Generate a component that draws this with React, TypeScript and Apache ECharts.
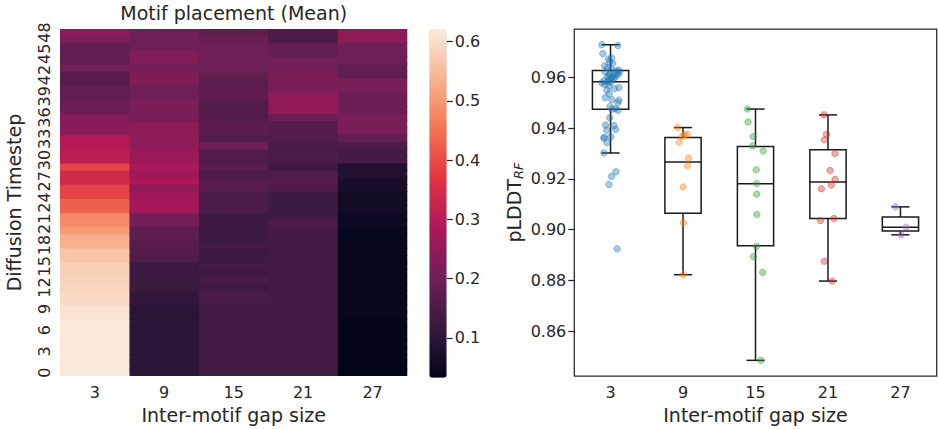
import React, { useEffect, useRef } from "react";
import * as echarts from "echarts";

// ---------- data ----------
const gapSizes = ["3", "9", "15", "21", "27"];
const timesteps = [
  "0", "1", "2", "3", "4", "5", "6", "7", "8", "9", "10", "11", "12", "13", "14", "15", "16",
  "17", "18", "19", "20", "21", "22", "23", "24", "25", "26", "27", "28", "29", "30", "31", "32",
  "33", "34", "35", "36", "37", "38", "39", "40", "41", "42", "43", "44", "45", "46", "47", "48",
];

// mean motif placement per timestep (row 0 .. row 48), one array per gap size
const heatGap3 = [
  0.62, 0.62, 0.62, 0.62, 0.62, 0.62, 0.62, 0.62, 0.608, 0.608, 0.595, 0.595, 0.588, 0.585, 0.58, 0.58,
  0.565, 0.565, 0.535, 0.53, 0.505, 0.485, 0.48, 0.425, 0.425, 0.39, 0.39, 0.345, 0.345, 0.39, 0.31,
  0.305, 0.295, 0.295, 0.235, 0.235, 0.235, 0.195, 0.195, 0.185, 0.18, 0.165, 0.165, 0.205, 0.18, 0.18,
  0.18, 0.215, 0.245,
];
const heatGap9 = [
  0.1, 0.1, 0.1, 0.1, 0.1, 0.1, 0.1, 0.1, 0.1, 0.1, 0.11, 0.11, 0.125, 0.125, 0.13, 0.13, 0.155, 0.16,
  0.165, 0.175, 0.175, 0.205, 0.205, 0.27, 0.27, 0.265, 0.245, 0.285, 0.265, 0.285, 0.26, 0.26, 0.245,
  0.24, 0.24, 0.24, 0.205, 0.215, 0.215, 0.2, 0.2, 0.22, 0.22, 0.2, 0.225, 0.225, 0.2, 0.2, 0.2,
];
const heatGap15 = [
  0.137, 0.137, 0.137, 0.137, 0.137, 0.137, 0.137, 0.137, 0.137, 0.137, 0.14, 0.145, 0.13, 0.145, 0.13,
  0.14, 0.128, 0.124, 0.135, 0.124, 0.128, 0.13, 0.125, 0.145, 0.15, 0.15, 0.165, 0.165, 0.15, 0.17,
  0.155, 0.155, 0.195, 0.158, 0.172, 0.172, 0.16, 0.16, 0.155, 0.178, 0.178, 0.17, 0.185, 0.2, 0.2, 0.2,
  0.2, 0.19, 0.175,
];
const heatGap21 = [
  0.135, 0.135, 0.135, 0.135, 0.135, 0.135, 0.135, 0.135, 0.135, 0.135, 0.135, 0.135, 0.135, 0.135,
  0.135, 0.135, 0.135, 0.135, 0.135, 0.135, 0.138, 0.15, 0.133, 0.13, 0.128, 0.13, 0.15, 0.165, 0.155,
  0.13, 0.15, 0.15, 0.145, 0.16, 0.16, 0.16, 0.195, 0.245, 0.245, 0.245, 0.215, 0.215, 0.215, 0.205,
  0.205, 0.185, 0.185, 0.15, 0.15,
];
const heatGap27 = [
  0.033, 0.033, 0.033, 0.033, 0.033, 0.033, 0.033, 0.033, 0.04, 0.04, 0.04, 0.04, 0.04, 0.04, 0.04,
  0.04, 0.04, 0.04, 0.04, 0.04, 0.042, 0.051, 0.051, 0.06, 0.056, 0.056, 0.07, 0.07, 0.085, 0.085, 0.14,
  0.135, 0.15, 0.18, 0.215, 0.215, 0.215, 0.195, 0.195, 0.195, 0.215, 0.215, 0.18, 0.18, 0.2, 0.2, 0.2,
  0.24, 0.24,
];
const colorbarMin = 0.0326;
const colorbarMax = 0.6214;
const colorbarTicks = [0.1, 0.2, 0.3, 0.4, 0.5, 0.6];

// pLDDT_RF per design, one array per gap size
const plddtGap3 = [
  0.9728, 0.9725, 0.9693, 0.9676, 0.9672, 0.966, 0.9655, 0.9645, 0.9638, 0.9632, 0.9628, 0.9625, 0.9622,
  0.962, 0.9615, 0.9612, 0.961, 0.9608, 0.9605, 0.9602, 0.96, 0.9598, 0.9594, 0.959, 0.9586, 0.9583,
  0.958, 0.9578, 0.9572, 0.9566, 0.956, 0.9555, 0.955, 0.9535, 0.952, 0.9512, 0.951, 0.95, 0.9485,
  0.9476, 0.9474, 0.947, 0.944, 0.9412, 0.941, 0.9395, 0.9392, 0.9366, 0.9364, 0.936, 0.9343, 0.9302,
  0.9228, 0.921, 0.9178, 0.8925,
];
const plddtGap9 = [0.9402, 0.9376, 0.9374, 0.9367, 0.9345, 0.9282, 0.9252, 0.9168, 0.9028, 0.8823];
const plddtGap15 = [
  0.9475, 0.9424, 0.9367, 0.933, 0.931, 0.9236, 0.9182, 0.914, 0.906, 0.8935, 0.8894, 0.8832, 0.8486,
];
const plddtGap21 = [
  0.9452, 0.9376, 0.9354, 0.93, 0.9233, 0.9198, 0.9176, 0.9161, 0.9044, 0.9036, 0.8876, 0.8798,
];
const plddtGap27 = [0.909, 0.901, 0.898];

// box statistics
const whiskerLow = [0.9302, 0.8823, 0.8486, 0.8798, 0.898];
const quartile1 = [0.9474, 0.9065, 0.8937, 0.9044, 0.8995];
const medians = [0.9582, 0.9267, 0.9181, 0.9188, 0.901];
const quartile3 = [0.9627, 0.9363, 0.9328, 0.9315, 0.905];
const whiskerHigh = [0.9728, 0.9402, 0.9475, 0.9452, 0.909];
const plddtAxisMin = 0.8424;
const plddtAxisMax = 0.979;
const plddtTicks = [0.86, 0.88, 0.9, 0.92, 0.94, 0.96];

// ---------- styling ----------
const FONT = "DejaVu Sans";
const INK = "#262626";
const rocket = [
  "#03051a", "#35193e", "#701f57", "#ad1759", "#e13342", "#f37651", "#f6b48f", "#faebdd",
];
const groupColors = [
  [31, 119, 180],
  [255, 127, 14],
  [44, 160, 44],
  [214, 39, 40],
  [148, 103, 189],
];

function jitter(g: number, k: number) {
  const s = Math.sin(k * 12.9898 + g * 78.233) * 43758.5453;
  const f = s - Math.floor(s);
  return (f - 0.5) * 0.24;
}

function buildOption() {
  const heatCols = [heatGap3, heatGap9, heatGap15, heatGap21, heatGap27];
  const heatData: number[][] = [];
  heatCols.forEach((col, x) => col.forEach((v, y) => heatData.push([x, y, v])));
  const nCols = gapSizes.length;
  const nRows = timesteps.length;

  const boxData = gapSizes.map((_, i) => [
    i, whiskerLow[i], quartile1[i], medians[i], quartile3[i], whiskerHigh[i],
  ]);

  const groups = [plddtGap3, plddtGap9, plddtGap15, plddtGap21, plddtGap27];
  const scatterSeries = groups.map((vals, g) => {
    const [r, gg, b] = groupColors[g];
    const c = `rgba(${r},${gg},${b},0.5)`;
    return {
      type: "scatter",
      xAxisIndex: 3,
      yAxisIndex: 2,
      z: 5,
      symbolSize: 6.5,
      itemStyle: { color: c, borderColor: c, borderWidth: 1 },
      emphasis: { disabled: true },
      data: vals.map((v, k) => [g + jitter(g, k), v]),
    };
  });

  const tickLine = { color: INK, width: 1.25 };
  const labelStyle = { fontSize: 16, color: INK, fontFamily: FONT };
  const nameStyle = { fontSize: 19, color: INK, fontFamily: FONT };

  return {
    animation: false,
    textStyle: { fontFamily: FONT },
    grid: [
      { left: 60, top: 29, width: 347.3, height: 348.7 },
      { left: 429.3, top: 29, width: 17.4, height: 348.7 },
      {
        left: 574.3, top: 29, width: 362.4, height: 348.7,
        show: true, borderColor: INK, borderWidth: 1.25, backgroundColor: "transparent",
      },
    ],
    xAxis: [
      {
        gridIndex: 0, type: "category", data: gapSizes,
        name: "Inter-motif gap size", nameLocation: "middle", nameGap: 28, nameTextStyle: nameStyle,
        axisLine: { show: false, onZero: false },
        axisTick: { alignWithLabel: true, length: 6, lineStyle: tickLine },
        axisLabel: { ...labelStyle, margin: 8 },
        splitLine: { show: false },
      },
      { gridIndex: 1, type: "value", show: false },
      {
        gridIndex: 2, type: "category", data: gapSizes,
        name: "Inter-motif gap size", nameLocation: "middle", nameGap: 28, nameTextStyle: nameStyle,
        axisLine: { show: false, onZero: false },
        axisTick: { alignWithLabel: true, length: 6, lineStyle: tickLine },
        axisLabel: { ...labelStyle, margin: 8 },
        splitLine: { show: false },
      },
      { gridIndex: 2, type: "value", min: -0.5, max: 4.5, show: false },
    ],
    yAxis: [
      {
        gridIndex: 0, type: "category", data: timesteps,
        name: "Diffusion Timestep", nameLocation: "middle", nameRotate: 90, nameGap: 37,
        nameTextStyle: nameStyle,
        axisLine: { show: false, onZero: false },
        axisTick: { interval: 2, alignWithLabel: true, length: 6, lineStyle: tickLine },
        axisLabel: { ...labelStyle, interval: 2, rotate: 90, margin: 8 },
        splitLine: { show: false },
      },
      {
        gridIndex: 1, type: "value", min: colorbarMin, max: colorbarMax, position: "right",
        axisLine: { show: false, onZero: false },
        axisTick: { show: true, customValues: colorbarTicks, length: 6, lineStyle: tickLine },
        axisLabel: {
          ...labelStyle, margin: 8, customValues: colorbarTicks,
          formatter: (v: number) => v.toFixed(1),
        },
        splitLine: { show: false },
      },
      {
        gridIndex: 2, type: "value", min: plddtAxisMin, max: plddtAxisMax, position: "left",
        name: "pLDDT{sub|RF}", nameLocation: "middle", nameRotate: 90, nameGap: 49,
        nameTextStyle: {
          ...nameStyle,
          rich: {
            sub: { fontSize: 13, fontStyle: "italic", color: INK, fontFamily: FONT, verticalAlign: "bottom", padding: [9, 0, 0, 0] },
          },
        },
        axisLine: { show: false, onZero: false },
        axisTick: { show: true, customValues: plddtTicks, length: 6, lineStyle: tickLine },
        axisLabel: {
          ...labelStyle, margin: 8, customValues: plddtTicks,
          formatter: (v: number) => v.toFixed(2),
        },
        splitLine: { show: false },
      },
    ],
    visualMap: {
      type: "continuous",
      seriesIndex: 0,
      dimension: 2,
      min: colorbarMin,
      max: colorbarMax,
      calculable: false,
      hoverLink: false,
      inRange: { color: rocket },
      left: 429.3,
      top: 29,
      itemWidth: 17.4,
      itemHeight: 348.7,
      padding: 0,
      show: true,
    },
    graphic: [
      {
        type: "text", x: 233.7, y: 13,
        style: {
          text: "Motif placement (Mean)", fontSize: 19, fontFamily: FONT, fill: INK,
          textAlign: "center", textVerticalAlign: "middle",
        },
      },
    ],
    series: [
      {
        type: "custom", xAxisIndex: 0, yAxisIndex: 0, data: heatData,
        encode: { x: 0, y: 1 },
        renderItem: (_params: any, api: any) => {
          const xi = api.value(0);
          const yi = api.value(1);
          const [cx, cy] = api.coord([xi, yi]);
          const [w, h] = api.size([1, 1]);
          const padR = xi < nCols - 1 ? 0.8 : 0;
          const padT = yi < nRows - 1 ? 0.8 : 0;
          return {
            type: "rect",
            shape: { x: cx - w / 2, y: cy - h / 2 - padT, width: w + padR, height: h + padT },
            style: { fill: api.visual("color") },
          };
        },
        emphasis: { disabled: true },
      },
      {
        type: "custom", xAxisIndex: 3, yAxisIndex: 2, z: 3,
        data: boxData,
        encode: { x: 0, y: [1, 2, 3, 4, 5] },
        renderItem: (_params: any, api: any) => {
          const x = api.value(0);
          const unit = api.size([1, 0])[0];
          const hw = unit * 0.25;
          const cw = unit * 0.125;
          const cx = api.coord([x, api.value(3)])[0];
          const yLo = api.coord([x, api.value(1)])[1];
          const yQ1 = api.coord([x, api.value(2)])[1];
          const yMed = api.coord([x, api.value(3)])[1];
          const yQ3 = api.coord([x, api.value(4)])[1];
          const yHi = api.coord([x, api.value(5)])[1];
          const st = { stroke: "#1a1a1a", lineWidth: 1.5, fill: null };
          return {
            type: "group",
            children: [
              { type: "rect", shape: { x: cx - hw, y: yQ3, width: 2 * hw, height: yQ1 - yQ3 }, style: st },
              { type: "line", shape: { x1: cx - hw, y1: yMed, x2: cx + hw, y2: yMed }, style: st },
              { type: "line", shape: { x1: cx, y1: yQ1, x2: cx, y2: yLo }, style: st },
              { type: "line", shape: { x1: cx, y1: yQ3, x2: cx, y2: yHi }, style: st },
              { type: "line", shape: { x1: cx - cw, y1: yLo, x2: cx + cw, y2: yLo }, style: st },
              { type: "line", shape: { x1: cx - cw, y1: yHi, x2: cx + cw, y2: yHi }, style: st },
            ],
          };
        },
      },
      ...scatterSeries,
    ],
  };
}

export default function App() {
  const ref = useRef<HTMLDivElement>(null);
  useEffect(() => {
    if (!ref.current) return;
    const chart = echarts.init(ref.current, undefined, { renderer: "svg" });
    chart.setOption(buildOption() as any);
    return () => chart.dispose();
  }, []);
  return (
    <div
      ref={ref}
      style={{ position: "fixed", left: 0, top: 0, width: 938, height: 429, background: "#ffffff" }}
    />
  );
}
